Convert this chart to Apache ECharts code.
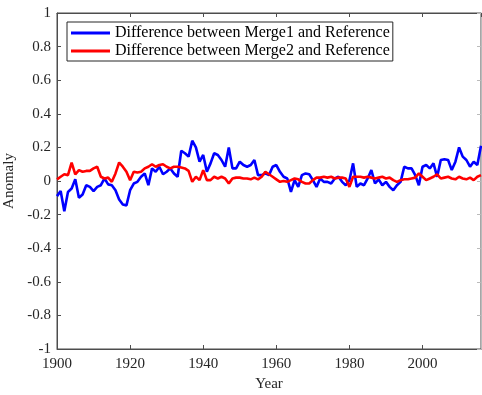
<!DOCTYPE html>
<html>
<head>
<meta charset="utf-8">
<script src="https://cdn.jsdelivr.net/npm/echarts@6/dist/echarts.min.js"></script>
<style>html,body{margin:0;padding:0;background:#fff}#c{width:482px;height:395px}</style>
</head>
<body>
<div id="c"></div>
<script>
const years = [1900,1901,1902,1903,1904,1905,1906,1907,1908,1909,1910,1911,1912,1913,1914,1915,1916,1917,1918,1919,
1920,1921,1922,1923,1924,1925,1926,1927,1928,1929,1930,1931,1932,1933,1934,1935,1936,1937,1938,1939,
1940,1941,1942,1943,1944,1945,1946,1947,1948,1949,1950,1951,1952,1953,1954,1955,1956,1957,1958,1959,
1960,1961,1962,1963,1964,1965,1966,1967,1968,1969,1970,1971,1972,1973,1974,1975,1976,1977,1978,1979,
1980,1981,1982,1983,1984,1985,1986,1987,1988,1989,1990,1991,1992,1993,1994,1995,1996,1997,1998,1999,
2000,2001,2002,2003,2004,2005,2006,2007,2008,2009,2010,2011,2012,2013,2014,2015,2016];

const merge1Diff = [-0.09,-0.06,-0.18,-0.065,-0.045,0.01,-0.10,-0.08,-0.025,-0.035,-0.06,-0.035,-0.025,0.015,-0.02,-0.025,-0.055,-0.11,-0.14,-0.145,
-0.055,-0.015,-0.005,0.025,0.045,-0.025,0.075,0.055,0.085,0.04,0.055,0.075,0.045,0.025,0.18,0.165,0.145,0.24,0.20,0.115,
0.155,0.055,0.105,0.165,0.155,0.125,0.085,0.20,0.075,0.075,0.115,0.095,0.085,0.095,0.125,0.035,0.035,0.045,0.035,0.085,
0.095,0.055,0.025,0.015,-0.065,0.005,-0.035,0.035,0.045,0.04,0.005,-0.035,0.015,-0.005,-0.005,-0.015,0.015,0.025,-0.005,-0.025,
0.005,0.105,-0.035,-0.015,-0.025,0.015,0.065,-0.015,0.01,-0.025,-0.005,-0.035,-0.055,-0.025,-0.005,0.085,0.075,0.075,0.035,-0.025,
0.085,0.095,0.075,0.105,0.025,0.125,0.13,0.125,0.065,0.115,0.20,0.145,0.125,0.085,0.115,0.095,0.21];

const merge2Diff = [0.01,0.025,0.04,0.035,0.11,0.04,0.065,0.055,0.06,0.06,0.075,0.085,0.025,0.015,0.02,-0.005,0.045,0.11,0.085,0.055,
0.005,0.055,0.05,0.055,0.075,0.085,0.10,0.085,0.095,0.10,0.085,0.075,0.085,0.085,0.08,0.075,0.06,-0.005,0.025,0.005,
0.065,0.005,0.005,0.025,0.015,0.025,0.015,-0.015,0.015,0.02,0.02,0.015,0.015,0.01,0.02,0.01,0.025,0.055,0.04,0.025,
0.01,-0.005,0.0,-0.005,0.005,0.015,0.01,-0.005,-0.015,-0.015,0.005,0.02,0.02,0.025,0.02,0.025,0.015,0.02,0.02,0.015,
-0.035,0.025,0.025,0.025,0.02,0.025,0.02,0.015,0.02,0.025,0.015,0.02,0.005,-0.005,0.005,0.01,0.01,0.015,0.02,0.045,
0.025,0.005,0.015,0.025,0.04,0.015,0.02,0.025,0.015,0.01,0.025,0.015,0.01,0.02,0.005,0.025,0.035];

const seriesNames = ['Difference between Merge1 and Reference','Difference between Merge2 and Reference'];

const font = 'Liberation Serif';
const axisCol = '#4d4d4d';
const chart = echarts.init(document.getElementById('c'), null, {renderer:'canvas'});
const pairs = arr => arr.map((v,i)=>[years[i], v]);

chart.setOption({
  animation:false,
  backgroundColor:'#fff',
  grid:{left:57,right:1,top:13,bottom:46,show:true,borderColor:axisCol,borderWidth:1,
        outerBoundsMode:'none',containLabel:false},
  legend:{
    orient:'vertical',left:67,top:22,
    itemWidth:39,itemHeight:3,itemGap:2,icon:'rect',
    borderColor:'#262626',borderWidth:1,backgroundColor:'#fff',
    padding:[3,3,2,4],
    textStyle:{fontFamily:font,fontSize:16,color:'#000',padding:[0,0,0,0]},
    data:seriesNames
  },
  xAxis:[{
    type:'value',min:1900,max:2016,interval:20,
    name:'Year',nameLocation:'middle',nameGap:27,
    nameTextStyle:{fontFamily:font,fontSize:15,color:'#262626'},
    axisLine:{onZero:false,lineStyle:{color:axisCol}},
    axisTick:{inside:true,length:4,lineStyle:{color:axisCol}},
    axisLabel:{fontFamily:font,fontSize:15,color:'#262626',margin:8,showMaxLabel:false,
               formatter:v=>String(v)},
    splitLine:{show:false}
  },{
    type:'value',min:1900,max:2016,interval:20,position:'top',
    axisLine:{onZero:false,lineStyle:{color:axisCol}},
    axisTick:{inside:true,length:4,lineStyle:{color:axisCol}},
    axisLabel:{show:false},splitLine:{show:false}
  }],
  yAxis:[{
    type:'value',min:-1,max:1,interval:0.2,
    name:'Anomaly',nameLocation:'middle',nameGap:33,
    nameTextStyle:{fontFamily:font,fontSize:15,color:'#262626'},
    axisLine:{show:true,onZero:false,lineStyle:{color:axisCol}},
    axisTick:{show:true,inside:true,length:4,lineStyle:{color:axisCol}},
    axisLabel:{fontFamily:font,fontSize:15,color:'#262626',margin:6},
    splitLine:{show:false}
  },{
    type:'value',min:-1,max:1,interval:0.2,position:'right',
    axisLine:{show:true,onZero:false,lineStyle:{color:'#bbb'}},
    axisTick:{show:true,inside:true,length:4,lineStyle:{color:'#bbb'}},
    axisLabel:{show:false},splitLine:{show:false}
  }],
  series:[
    {name:seriesNames[0],type:'line',data:pairs(merge1Diff),symbol:'none',
     lineStyle:{color:'#0000ff',width:2.6},itemStyle:{color:'#0000ff'},z:3},
    {name:seriesNames[1],type:'line',data:pairs(merge2Diff),symbol:'none',
     lineStyle:{color:'#ff0000',width:2.6},itemStyle:{color:'#ff0000'},z:4}
  ]
});
</script>
</body>
</html>
